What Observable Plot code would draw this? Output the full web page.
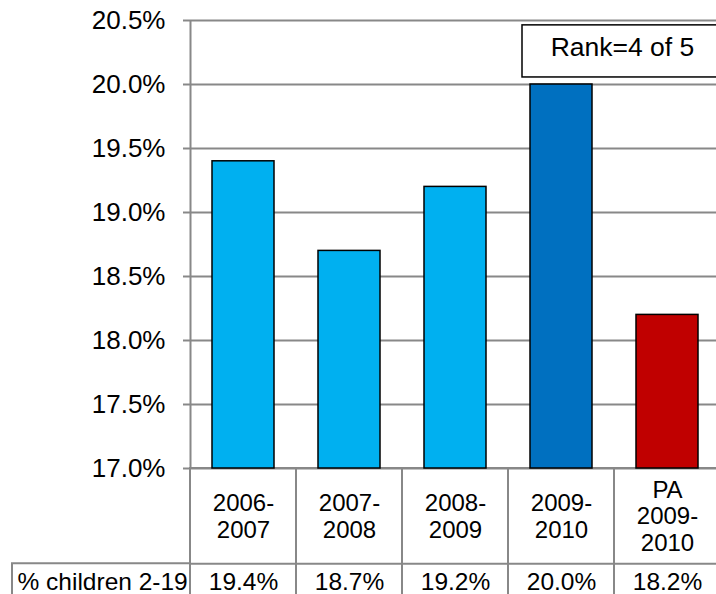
<!DOCTYPE html>
<html><head><meta charset="utf-8">
<script src="https://cdn.jsdelivr.net/npm/d3@7"></script>
<script src="https://cdn.jsdelivr.net/npm/@observablehq/plot@0.6"></script>
<style>
body{margin:0;background:#fff;overflow:hidden}
svg{font-family:"Liberation Sans",Arial,sans-serif}
</style>
</head><body><div id="chart"></div>
<script>
// ---- data ----
const categories = ["2006-\n2007", "2007-\n2008", "2008-\n2009", "2009-\n2010", "PA\n2009-\n2010"];
const values = [19.4, 18.7, 19.2, 20.0, 18.2];
const groups = ["County", "County", "County", "County latest", "PA"];
const yTicks = [17.0, 17.5, 18.0, 18.5, 19.0, 19.5, 20.0, 20.5];
const rowLabel = "% children 2-19";
const rankText = "Rank=4 of 5";

const data = categories.map((c, i) => ({cat: c, value: values[i], group: groups[i]}));

// ---- layout ----
const W = 716, H = 594, ML = 190, MR = -4, MT = 20, MB = 126;
const bw = (W - ML - MR) / categories.length;
const yBase = 17, yBottom = 15.98, yDivider = 16.255, yLabelMid = 16.63, yRowMid = 16.115;
const grid = "#888888";

const fmt = v => v.toFixed(1) + "%";

const plot = Plot.plot({
  width: W, height: H,
  marginLeft: ML, marginRight: MR, marginTop: MT, marginBottom: MB,
  style: {fontFamily: '"Liberation Sans", Arial, sans-serif', background: "#fff", overflow: "visible"},
  x: {type: "band", domain: categories, padding: 0, axis: null},
  y: {domain: [17, 20.5], axis: null, label: null},
  color: {domain: ["County", "County latest", "PA"], range: ["#00B0F0", "#0070C0", "#C00000"]},
  marks: [
    Plot.gridY(yTicks, {stroke: grid, strokeOpacity: 1, strokeWidth: 2}),
    Plot.axisY(yTicks, {tickSize: 7, tickPadding: 18, tickFormat: fmt, fontSize: 26, stroke: grid, strokeWidth: 2, fill: "black", label: null}),
    // table cells below the plot
    Plot.barY(categories, {x: d => d, y1: yBase, y2: yBottom, fill: "none", stroke: grid, strokeWidth: 2}),
    Plot.ruleY([yDivider], {stroke: grid, strokeWidth: 2}),
    // y axis line
    Plot.ruleX([categories[0]], {x: d => d, y1: yBase, y2: 20.5, dx: -bw / 2, stroke: grid, strokeWidth: 2}),
    // bars
    Plot.barY(data, {x: "cat", y1: yBase, y2: "value", fill: "group", stroke: "black", strokeWidth: 1.5, insetLeft: 22, insetRight: 22}),
    // category labels
    Plot.text(data, {x: "cat", y: yLabelMid, text: "cat", fontSize: 24, lineHeight: 1.1, lineAnchor: "middle", fill: "black"}),
    // data table row
    Plot.text(data, {x: "cat", y: yRowMid, text: d => fmt(d.value), fontSize: 24.5, lineAnchor: "middle", fill: "black"}),
    Plot.text([rowLabel], {frameAnchor: "left", y: yRowMid, text: d => d, dx: -173, textAnchor: "start", fontSize: 24.5, lineAnchor: "middle", fill: "black"}),
    // rank annotation
    Plot.text([rankText], {x: () => categories[4], y: () => 20.29, text: d => d, dx: -45, fontSize: 26.5, lineAnchor: "middle", fill: "black"})
  ]
});

// annotation box and row-label cell border, positioned via the plot's scales
const xs = plot.scale("x"), ys = plot.scale("y");
const svg = d3.select(plot);
const yDiv = ys.apply(yDivider), yBot = ys.apply(yBottom);
svg.insert("path", ":first-child")
  .attr("d", `M${ML},${yDiv}H12V${yBot}`)
  .attr("fill", "none").attr("stroke", grid).attr("stroke-width", 2);
const bx = xs.apply(categories[3]) + 14;
svg.append("rect")
  .attr("x", bx).attr("y", ys.apply(20.462))
  .attr("width", W + 10 - bx).attr("height", ys.apply(20.055) - ys.apply(20.462))
  .attr("fill", "none").attr("stroke", "black").attr("stroke-width", 1.5);

document.getElementById("chart").append(plot);
</script>
</body></html>
